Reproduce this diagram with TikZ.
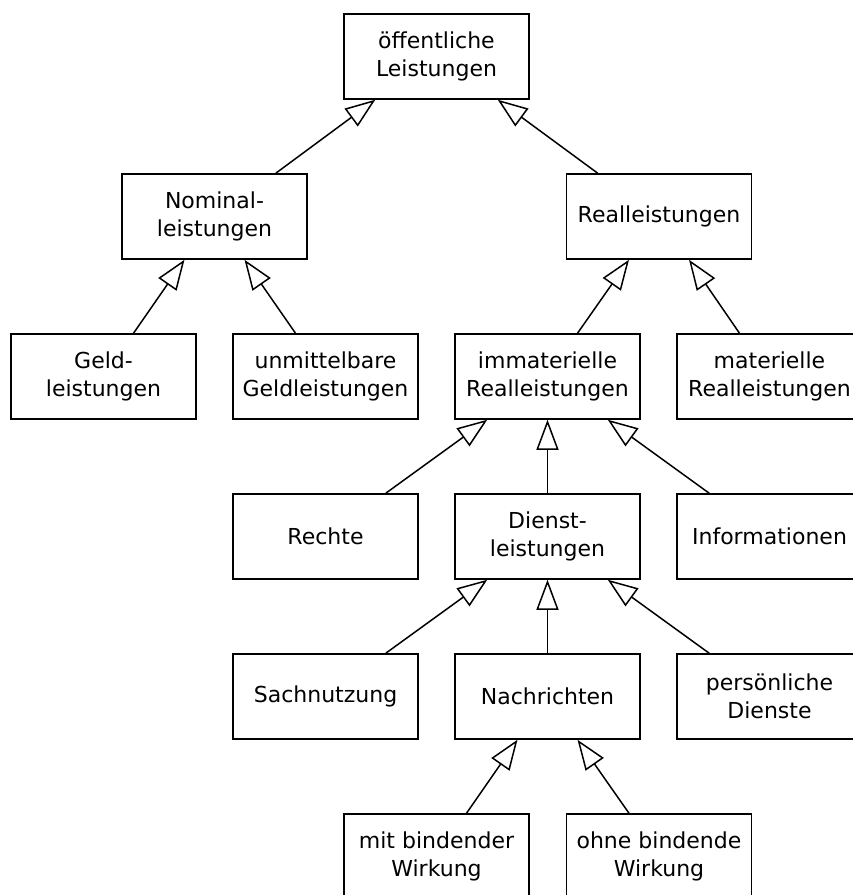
\documentclass[tikz,border=0pt]{standalone}
\usepackage{fontspec}
\setmainfont{DejaVu Sans}
\usetikzlibrary{arrows.meta}
\begin{document}
\begin{tikzpicture}[x=1pt,y=-1pt,
  box/.style={draw,line width=1.5pt,minimum width=185pt,minimum height=85pt,inner sep=0pt,align=center,font=\fontsize{22}{27.5}\selectfont},
  gen/.style={line width=1.5pt,-{Triangle[open,fill=white,length=30pt,width=22pt]}}]
\useasboundingbox (0,0) rectangle (853,895);
\node[box] (top) at (436.5,56.5) {öffentliche\\Leistungen};
\node[box] (nom) at (214.5,216.5) {Nominal-\\leistungen};
\node[box] (real) at (659,216.5) {Realleistungen};
\node[box] (geld) at (103.5,376.5) {Geld-\\leistungen};
\node[box] (unm) at (325.5,376.5) {unmittelbare\\Geldleistungen};
\node[box] (imm) at (547.5,376.5) {immaterielle\\Realleistungen};
\node[box] (mat) at (769.5,376.5) {materielle\\Realleistungen};
\node[box] (rechte) at (325.5,536.5) {Rechte};
\node[box] (dienst) at (547.5,536.5) {Dienst-\\leistungen};
\node[box] (info) at (769.5,536.5) {Informationen};
\node[box] (sach) at (325.5,696.5) {Sachnutzung};
\node[box] (nach) at (547.5,696.5) {Nachrichten};
\node[box] (pers) at (769.5,696.5) {persönliche\\Dienste};
\node[box] (mit) at (436.5,856.5) {mit bindender\\Wirkung};
\node[box] (ohne) at (659,856.5) {ohne bindende\\Wirkung};
\draw[gen] ([xshift=-32pt]nom.north east) -- ([xshift=32pt]top.south west);
\draw[gen] ([xshift=32pt]real.north west) -- ([xshift=-32pt]top.south east);
\draw[gen] ([xshift=30pt]geld.north) -- ([xshift=-30pt]nom.south);
\draw[gen] ([xshift=-30pt]unm.north) -- ([xshift=30pt]nom.south);
\draw[gen] ([xshift=30pt]imm.north) -- ([xshift=-30pt]real.south);
\draw[gen] ([xshift=-30pt]mat.north) -- ([xshift=30pt]real.south);
\draw[gen] ([xshift=-33pt]rechte.north east) -- ([xshift=33pt]imm.south west);
\draw[gen] (dienst.north) -- (imm.south);
\draw[gen] ([xshift=33pt]info.north west) -- ([xshift=-33pt]imm.south east);
\draw[gen] ([xshift=-33pt]sach.north east) -- ([xshift=33pt]dienst.south west);
\draw[gen] (nach.north) -- (dienst.south);
\draw[gen] ([xshift=33pt]pers.north west) -- ([xshift=-33pt]dienst.south east);
\draw[gen] ([xshift=30pt]mit.north) -- ([xshift=-30pt]nach.south);
\draw[gen] ([xshift=-30pt]ohne.north) -- ([xshift=30pt]nach.south);
\end{tikzpicture}
\end{document}
